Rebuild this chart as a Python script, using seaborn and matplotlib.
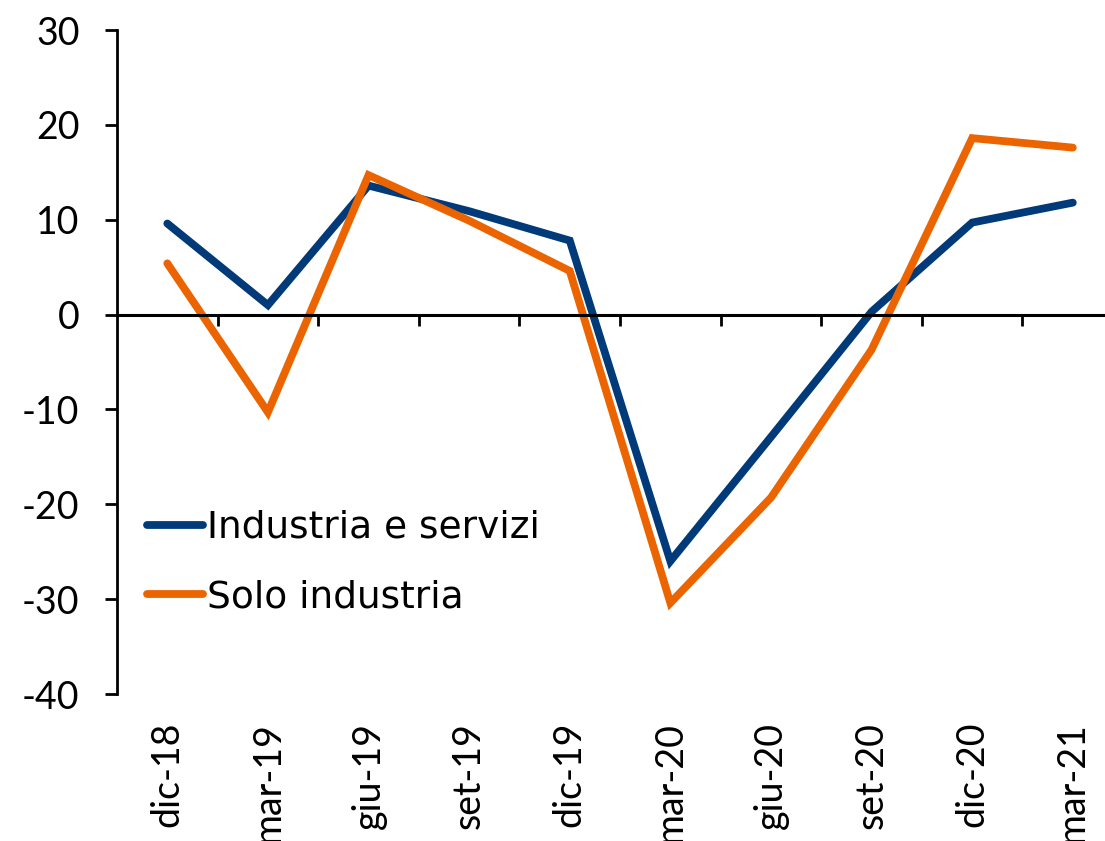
import matplotlib
matplotlib.use("Agg")
import matplotlib.pyplot as plt
import seaborn as sns
import pandas as pd
from matplotlib.lines import Line2D

categories = ["dic-18", "mar-19", "giu-19", "set-19", "dic-19",
              "mar-20", "giu-20", "set-20", "dic-20", "mar-21"]
industria_servizi = [9.6, 1.0, 13.6, 10.9, 7.8, -26.0, -12.9, 0.3, 9.7, 11.8]
solo_industria = [5.4, -10.3, 14.7, 9.9, 4.6, -30.4, -19.3, -3.7, 18.6, 17.6]
series_names = ["Industria e servizi", "Solo industria"]
colors = ["#003A78", "#EB6400"]
yticks = [-40, -30, -20, -10, 0, 10, 20, 30]

sns.set_theme(style="white")
plt.rcParams["font.family"] = ["Lato", "DejaVu Sans"]
plt.rcParams["text.color"] = "black"

df = pd.DataFrame({
    "x": list(range(len(categories))) * 2,
    "value": industria_servizi + solo_industria,
    "serie": [series_names[0]] * len(categories) + [series_names[1]] * len(categories),
})

fig = plt.figure(figsize=(11.05, 8.41), dpi=100)
ax = fig.add_axes([117 / 1105, 147 / 841, 988 / 1105, 664 / 841])

sns.lineplot(data=df, x="x", y="value", hue="serie", palette=colors,
             linewidth=5.6, ax=ax, legend=False, sort=False)
for ln in ax.get_lines():
    ln.set_solid_capstyle("round")
    ln.set_solid_joinstyle("miter")

ax.set_xlim(-0.5, 9.32)
ax.set_ylim(-40, 30)
ax.set_xlabel("")
ax.set_ylabel("")

# y axis
ax.set_yticks(yticks)
ax.set_yticklabels([str(v) for v in yticks])
ax.tick_params(axis="y", direction="out", length=9, width=2, pad=18,
               labelsize=27, colors="black", left=True)
ax.spines["left"].set_linewidth(2)
ax.spines["left"].set_color("black")
for s in ["top", "right"]:
    ax.spines[s].set_visible(False)

# zero line with ticks between categories
ax.spines["bottom"].set_position(("data", 0))
ax.spines["bottom"].set_linewidth(2.2)
ax.spines["bottom"].set_color("black")
boundaries = [i + 0.5 for i in range(len(categories) - 1)]
ax.set_xticks(boundaries)
ax.set_xticklabels([])
ax.tick_params(axis="x", direction="out", length=8, width=2, bottom=True,
               colors="black")

# category labels at bottom
sec = ax.secondary_xaxis("bottom")
sec.set_xticks(list(range(len(categories))))
sec.set_xticklabels(categories, rotation=90, fontsize=27, va="top")
sec.tick_params(axis="x", length=0, pad=20, colors="black")
sec.spines["bottom"].set_visible(False)

handles = [Line2D([0], [0], color=c, lw=5.6, solid_capstyle="round") for c in colors]
leg = ax.legend(handles, series_names, loc="upper left",
                bbox_to_anchor=(0.015, 0.30), frameon=False,
                prop={"family": "DejaVu Sans", "size": 27},
                labelcolor="black",
                handlelength=1.5, handletextpad=0.1, labelspacing=0.89,
                borderaxespad=0)

fig.savefig("out.png", dpi=100, facecolor="white")
